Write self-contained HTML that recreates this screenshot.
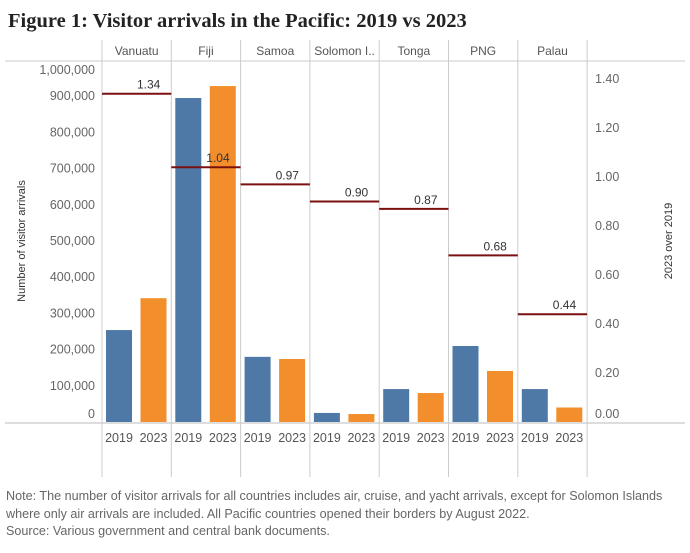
<!DOCTYPE html>
<html><head><meta charset="utf-8"><style>
body{margin:0;background:#fff;width:690px;height:548px;overflow:hidden;font-family:"Liberation Sans",sans-serif;}
svg text{font-family:"Liberation Sans",sans-serif;}
</style></head><body>
<svg id="c" width="690" height="548">
<text x="8" y="27" font-weight="bold" font-size="20.5" fill="#222" style="font-family:'Liberation Serif',serif">Figure 1: Visitor arrivals in the Pacific: 2019 vs 2023</text>
<g id="g"></g>
<text x="6" y="500" font-size="12.6" fill="#666">Note: The number of visitor arrivals for all countries includes air, cruise, and yacht arrivals, except for Solomon Islands</text>
<text x="6" y="518" font-size="12.6" fill="#666">where only air arrivals are included. All Pacific countries opened their borders by August 2022.</text>
<text x="6" y="535" font-size="12.6" fill="#666">Source: Various government and central bank documents.</text>
</svg>
<script>
const countries=["Vanuatu","Fiji","Samoa","Solomon I..","Tonga","PNG","Palau"];
const years=["2019","2023"];
const v2019=[254000,895000,180000,25000,91000,210000,91000];
const v2023=[342000,928000,174000,22000,80000,141000,40000];
const ratio=[1.34,1.04,0.97,0.90,0.87,0.68,0.44];
const leftTicks=[0,100000,200000,300000,400000,500000,600000,700000,800000,900000,1000000];
const rightTicks=[0,0.2,0.4,0.6,0.8,1.0,1.2,1.4];
const NS="http://www.w3.org/2000/svg",g=document.getElementById('g');
const x0=102,cw=69.3,yb=422;
const yL=v=>yb-v*0.000362, yR=v=>yb-v*245;
function el(t,a,txt){const e=document.createElementNS(NS,t);for(const k in a)e.setAttribute(k,a[k]);if(txt!==undefined)e.textContent=txt;g.appendChild(e);return e;}
let e=el('line',{x1:5,x2:685,y1:61,y2:61,stroke:'#ccc'});

e=el('line',{x1:5,x2:685,y1:423,y2:423,stroke:'#bbb'});

for(let i=0;i<=countries.length;i++){
 e=el('line',{x1:x0+i*cw,x2:x0+i*cw,y1:40,y2:477,stroke:'#ccc'});
 
}
leftTicks.forEach(t=>{
 let y=yL(t);let ly=Math.min(Math.max(y,70),414)+4;
 e=el('text',{x:95,y:ly,'text-anchor':'end','font-size':12.5,fill:'#666'},t.toLocaleString('en-US'));
 
});
rightTicks.forEach(t=>{
 let y=yR(t);let ly=Math.min(y,414)+4;
 e=el('text',{x:595,y:ly,'font-size':12.5,fill:'#666'},t.toFixed(2));
 
});
e=el('text',{x:0,y:0,'font-size':11,fill:'#333','text-anchor':'middle',transform:'translate(25,241) rotate(-90)'},'Number of visitor arrivals');

e=el('text',{x:0,y:0,'font-size':11,fill:'#333','text-anchor':'middle',transform:'translate(672,241) rotate(-90)'},'2023 over 2019');

countries.forEach((c,i)=>{
 const cx=x0+i*cw;
 e=el('text',{x:cx+cw/2,y:55,'text-anchor':'middle','font-size':12,fill:'#555'},c);
 
 [v2019[i],v2023[i]].forEach((v,j)=>{
  const bx=cx+4+j*34.5;
  e=el('rect',{x:bx,y:yL(v),width:26,height:yb-yL(v),fill:j?'#f28e2b':'#4e79a7'});
  
  e=el('text',{x:bx+13,y:442,'text-anchor':'middle','font-size':12.5,fill:'#555'},years[j]);
  
 });
 const ry=yR(ratio[i]);
 e=el('line',{x1:cx,x2:cx+cw,y1:ry,y2:ry,stroke:'#7b1010','stroke-width':2});
 
 e=el('text',{x:cx+cw/2+12,y:ry-5,'text-anchor':'middle','font-size':12,fill:'#333'},ratio[i].toFixed(2));
 
});
</script>
</body></html>
